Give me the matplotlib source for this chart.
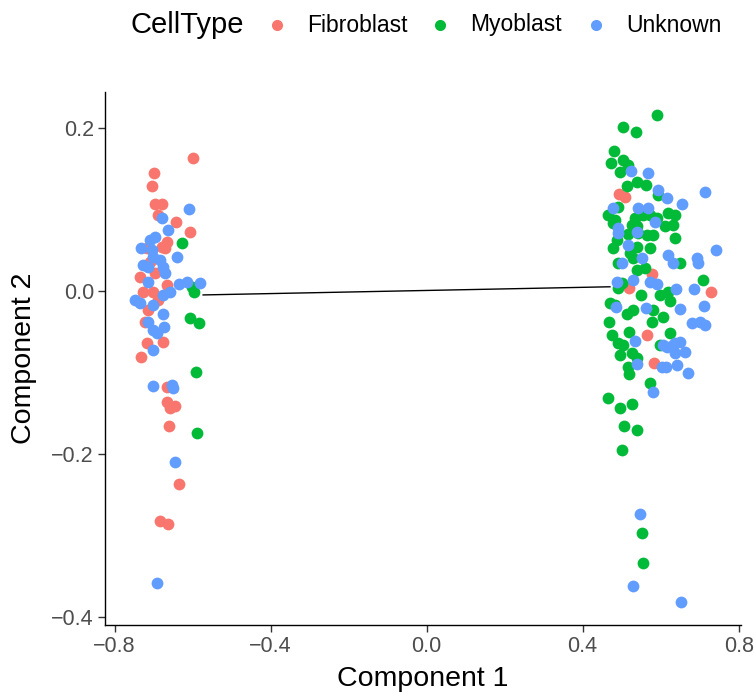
import matplotlib
matplotlib.use("Agg")
import matplotlib.pyplot as plt
from matplotlib.lines import Line2D

plt.rcParams['font.family'] = ['Liberation Sans', 'DejaVu Sans']

# cores padrao do ggplot para 3 grupos
cores = {"Fibroblast": "#F8766D", "Myoblast": "#00BA38", "Unknown": "#619CFF"}

# Fibroblast
fib_x = [-0.599, -0.699, -0.704, -0.696, -0.678, -0.688, -0.643, -0.607, -0.665, -0.717,
         -0.678, -0.735, -0.696, -0.665, -0.727, -0.701, -0.714, -0.722, -0.717, -0.676,
         -0.732, -0.665, -0.665, -0.645, -0.658, -0.660, -0.635, -0.684, -0.663, -0.709,
         -0.688, -0.671,
         0.493, 0.509, 0.578, 0.519, 0.729, 0.565, 0.583]
fib_y = [0.163, 0.144, 0.129, 0.106, 0.106, 0.093, 0.085, 0.072, 0.060, 0.053,
         0.054, 0.017, 0.022, 0.007, -0.002, -0.002, -0.023, -0.038, -0.064, -0.063,
         -0.081, -0.118, -0.136, -0.141, -0.144, -0.166, -0.237, -0.283, -0.286, 0.036,
         -0.011, 0.053,
         0.119, 0.115, 0.021, 0.004, -0.001, -0.054, -0.088]

# Myoblast
myo_x = [-0.627, -0.601, -0.596, -0.607, -0.584, -0.591, -0.589,
         0.591, 0.504, 0.537, 0.480, 0.473, 0.504, 0.516, 0.496, 0.514, 0.540,
         0.563, 0.593, 0.491, 0.465, 0.483, 0.534, 0.555, 0.573, 0.591, 0.619,
         0.637, 0.527, 0.540, 0.611, 0.632, 0.478, 0.516, 0.542, 0.565, 0.581,
         0.637, 0.488, 0.478, 0.540, 0.573, 0.522, 0.529, 0.650, 0.491, 0.540,
         0.560, 0.501, 0.491, 0.709, 0.550, 0.598, 0.619, 0.624, 0.470, 0.483,
         0.529, 0.514, 0.581, 0.578, 0.606, 0.468, 0.519, 0.475, 0.624, 0.491,
         0.504, 0.598, 0.496, 0.527, 0.540, 0.516, 0.519, 0.573, 0.465, 0.496,
         0.527, 0.506, 0.540, 0.501, 0.552, 0.555]
myo_y = [0.059, 0.005, -0.001, -0.033, -0.040, -0.099, -0.174,
         0.216, 0.201, 0.195, 0.171, 0.157, 0.160, 0.155, 0.146, 0.129, 0.133,
         0.130, 0.118, 0.103, 0.093, 0.087, 0.090, 0.093, 0.093, 0.090, 0.096,
         0.093, 0.081, 0.080, 0.079, 0.081, 0.083, 0.070, 0.071, 0.069, 0.069,
         0.065, 0.063, 0.053, 0.054, 0.052, 0.047, 0.040, 0.034, 0.034, 0.026,
         0.028, 0.010, 0.004, 0.013, -0.005, -0.005, -0.001, -0.013, -0.015, -0.017,
         -0.023, -0.029, -0.023, -0.038, -0.032, -0.038, -0.050, -0.054, -0.052, -0.064,
         -0.066, -0.066, -0.079, -0.076, -0.082, -0.093, -0.102, -0.113, -0.131, -0.144,
         -0.139, -0.166, -0.171, -0.195, -0.297, -0.334]

# Unknown
unk_x = [-0.609, -0.678, -0.663, -0.696, -0.732, -0.704, -0.640, -0.701, -0.684, -0.727,
         -0.714, -0.676, -0.671, -0.714, -0.635, -0.614, -0.581, -0.748, -0.735, -0.676,
         -0.658, -0.701, -0.676, -0.714, -0.673, -0.701, -0.691, -0.701, -0.701, -0.653,
         -0.650, -0.645, -0.691, -0.709,
         0.524, 0.568, 0.593, 0.714, 0.617, 0.655, 0.478, 0.542, 0.568, 0.491,
         0.586, 0.491, 0.540, 0.516, 0.552, 0.619, 0.632, 0.694, 0.696, 0.742,
         0.501, 0.488, 0.529, 0.573, 0.591, 0.640, 0.686, 0.486, 0.563, 0.650,
         0.711, 0.681, 0.701, 0.714, 0.534, 0.606, 0.637, 0.650, 0.617, 0.632,
         0.663, 0.637, 0.540, 0.604, 0.614, 0.642, 0.671, 0.581, 0.547, 0.529,
         0.652]
unk_y = [0.101, 0.090, 0.075, 0.066, 0.053, 0.050, 0.042, 0.042, 0.038, 0.032,
         0.029, 0.029, 0.022, 0.011, 0.009, 0.011, 0.010, -0.011, -0.015, -0.005,
         -0.002, -0.017, -0.029, -0.038, -0.044, -0.048, -0.052, -0.072, -0.117, -0.115,
         -0.119, -0.210, -0.358, 0.063,
         0.147, 0.145, 0.124, 0.121, 0.114, 0.107, 0.102, 0.102, 0.102, 0.077,
         0.085, 0.071, 0.072, 0.056, 0.040, 0.044, 0.034, 0.040, 0.034, 0.050,
         0.034, 0.011, 0.013, 0.011, 0.009, 0.002, 0.002, -0.020, -0.021, -0.022,
         -0.018, -0.039, -0.038, -0.042, -0.061, -0.066, -0.064, -0.063, -0.069, -0.066,
         -0.075, -0.076, -0.090, -0.093, -0.093, -0.091, -0.101, -0.124, -0.274, -0.362,
         -0.382]

# trajetoria (linha entre os dois estados)
traj_x = [-0.573, 0.470]
traj_y = [-0.005, 0.005]

W, H = 754, 694
fig = plt.figure(figsize=(W / 100, H / 100), dpi=100)
ax = fig.add_axes([105 / W, 1 - 625 / H, 636 / W, 533 / H])

ax.plot(traj_x, traj_y, color="black", lw=1, zorder=1)
ax.scatter(fib_x, fib_y, s=72, color=cores["Fibroblast"], linewidths=0, zorder=2)
ax.scatter(myo_x, myo_y, s=72, color=cores["Myoblast"], linewidths=0, zorder=2)
ax.scatter(unk_x, unk_y, s=72, color=cores["Unknown"], linewidths=0, zorder=2)

ax.set_xlim(-0.8246, 0.806)
ax.set_ylim(-0.410, 0.244)
ax.set_xticks([-0.8, -0.4, 0.0, 0.4, 0.8])
ax.set_yticks([-0.4, -0.2, 0.0, 0.2])
ax.set_xticklabels(["\u22120.8", "\u22120.4", "0.0", "0.4", "0.8"])
ax.set_yticklabels(["\u22120.4", "\u22120.2", "0.0", "0.2"])
ax.tick_params(labelsize=15.5, labelcolor="#4D4D4D", color="#333333", length=5, width=1)
ax.tick_params(axis="x", pad=3)
ax.tick_params(axis="y", pad=3)
ax.spines["top"].set_visible(False)
ax.spines["right"].set_visible(False)
for s in ["left", "bottom"]:
    ax.spines[s].set_linewidth(1)

ax.set_xlabel("Component 1", fontsize=20.5, va="center")
ax.set_ylabel("Component 2", fontsize=20.5, va="center")
ax.xaxis.set_label_coords(0.5, (625 - 679) / 533)
ax.yaxis.set_label_coords((24 - 105) / 636, 0.5)

# legenda no topo, titulo a esquerda (montada a mao)
ly = 1 - 25 / H
fig.text(130 / W, ly, "CellType", fontsize=21, va="center", ha="left")
pos_marca = [277, 440, 596]
for (nome, cor), px in zip(cores.items(), pos_marca):
    fig.add_artist(Line2D([px / W], [ly], marker="o", linestyle="", markersize=8,
                          color=cor, markeredgewidth=0, transform=fig.transFigure))
    fig.text((px + 30) / W, ly, nome, fontsize=16.5, va="center", ha="left")

fig.savefig("out.png", dpi=100)
